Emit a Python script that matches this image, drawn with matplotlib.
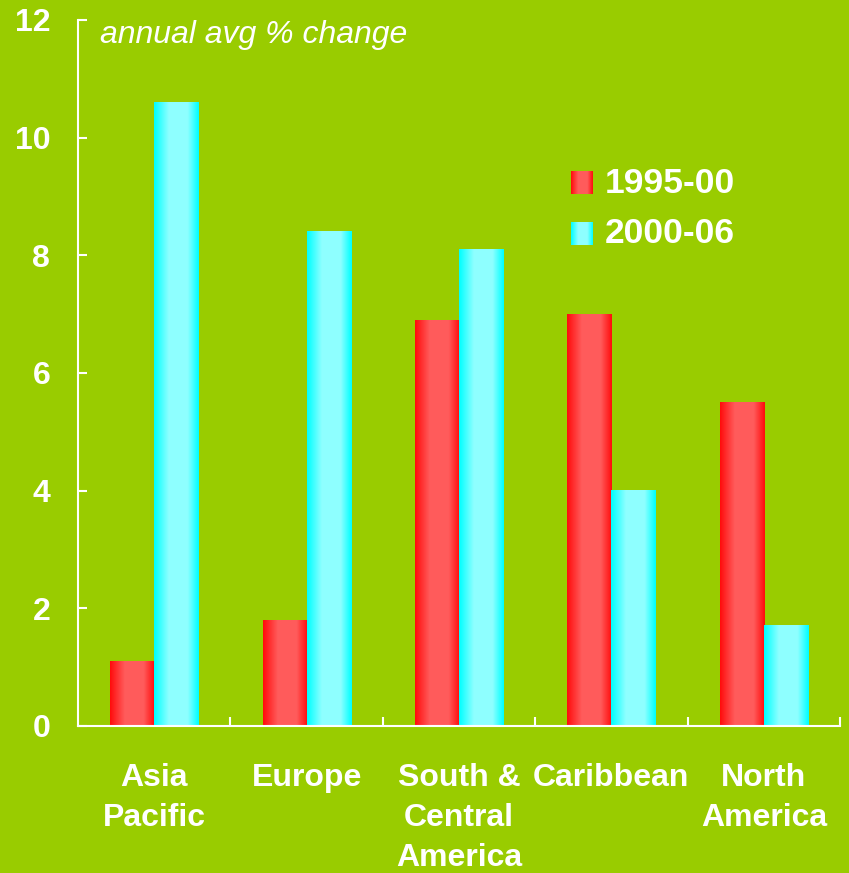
import numpy as np
import matplotlib
matplotlib.use('Agg')
import matplotlib.pyplot as plt

# data
regions = ['Asia\nPacific', 'Europe', 'South &\nCentral\nAmerica', 'Caribbean', 'North\nAmerica']
v_1995_00 = [1.1, 1.8, 6.9, 7.0, 5.5]
v_2000_06 = [10.6, 8.4, 8.1, 4.0, 1.7]
series_names = ['1995-00', '2000-06']
yticks = [0, 2, 4, 6, 8, 10, 12]

bg = '#99cc00'
red_dark, red_light = (1.0, 0.05, 0.05), (1.0, 0.36, 0.36)
cyan_dark, cyan_light = (0.0, 1.0, 1.0), (0.56, 1.0, 1.0)

plt.rcParams['font.family'] = ['Liberation Sans', 'DejaVu Sans']


def shade(dark, light, n=64):
    # horizontal "cylinder" shading: dark edges, lighter middle
    t = np.linspace(0, 1, n)
    k = np.clip(np.minimum(t / 0.33, (1 - t) / 0.25), 0, 1)
    dark = np.array(dark)
    light = np.array(light)
    row = dark[None, :] + (light - dark)[None, :] * k[:, None]
    return row[None, :, :]


fig = plt.figure(figsize=(8.49, 8.73), dpi=100)
fig.patch.set_facecolor(bg)
ax = fig.add_axes([0.0919, 0.1684, 0.8975, 0.8087])
ax.set_facecolor(bg)

w = 0.289
x = np.arange(len(regions))
red_img = shade(red_dark, red_light)
cyan_img = shade(cyan_dark, cyan_light)
for i in range(len(regions)):
    ax.imshow(red_img, extent=[x[i] - w, x[i], 0, v_1995_00[i]], aspect='auto', interpolation='bilinear')
    ax.imshow(cyan_img, extent=[x[i], x[i] + w, 0, v_2000_06[i]], aspect='auto', interpolation='bilinear')

# legend swatches in figure coords
ax.imshow(red_img, extent=[0.6726, 0.6985, 0.7778, 0.8041], transform=fig.transFigure,
          aspect='auto', interpolation='bilinear', clip_on=False)
ax.imshow(cyan_img, extent=[0.6726, 0.6985, 0.7194, 0.7457], transform=fig.transFigure,
          aspect='auto', interpolation='bilinear', clip_on=False)
fig.text(0.7126, 0.790, series_names[0], color='white', fontsize=25.5, fontweight='bold', va='center')
fig.text(0.7126, 0.732, series_names[1], color='white', fontsize=25.5, fontweight='bold', va='center')

ax.set_xlim(-0.5, len(regions) - 0.5)
ax.set_ylim(0, 12)
ax.set_aspect('auto')

for s in ['top', 'right']:
    ax.spines[s].set_visible(False)
for s in ['left', 'bottom']:
    ax.spines[s].set_color('white')
    ax.spines[s].set_linewidth(1.5)

ax.set_yticks(yticks)
ax.set_yticklabels([str(t) for t in yticks])
ax.tick_params(axis='y', direction='in', length=6.5, width=1.5, color='white',
               labelcolor='white', labelsize=23, pad=20)
for lab in ax.get_yticklabels():
    lab.set_fontweight('bold')

ax.set_xticks(x)
ax.set_xticklabels(regions, linespacing=1.43)
ax.set_xticks(np.arange(0.5, len(regions), 1.0), minor=True)
ax.tick_params(axis='x', which='major', length=0, labelcolor='white', labelsize=23, pad=27)
ax.tick_params(axis='x', which='minor', direction='in', length=6.5, width=1.5, color='white')
for lab in ax.get_xticklabels():
    lab.set_fontweight('bold')

fig.text(0.1178, 0.9507, 'annual avg % change', color='white', fontsize=23,
         fontstyle='italic', va='baseline')

fig.savefig('out.png', dpi=100, facecolor=bg)
